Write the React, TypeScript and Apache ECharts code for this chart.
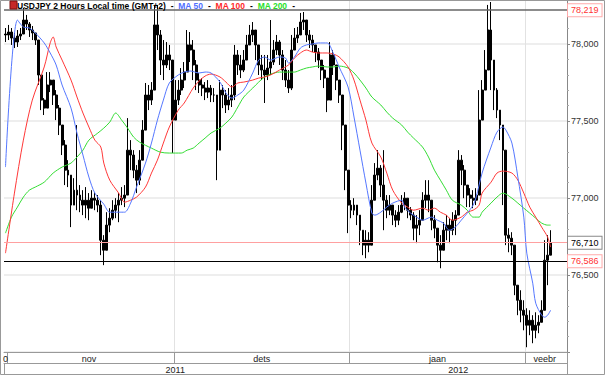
import React, { useEffect, useRef } from "react";
import * as echarts from "echarts";

// 2-hour USDJPY bars: closes, highs, lows
const firstOpen = 78.065;
const closes = [
  78.059, 78.078, 78.039, 78.013, 78.052, 78.065, 78.156, 78.13, 78.091, 78.072,
  78.026, 77.799, 77.636, 77.584, 77.734, 77.766, 77.669, 77.584, 77.474, 77.344,
  77.181, 77.149, 76.954, 77.051, 77.019, 76.986, 76.954, 76.986, 76.934, 76.999,
  76.986, 76.954, 76.726, 76.661, 76.824, 76.869, 76.921, 76.954, 76.986, 76.999,
  77.019, 77.311, 77.279, 77.181, 77.116, 77.246, 77.441, 77.669, 77.636, 77.701,
  78.124, 78.059, 77.896, 77.864, 77.929, 77.896, 77.506, 77.636, 77.701, 77.766,
  77.818, 77.994, 77.961, 77.864, 77.766, 77.734, 77.714, 77.688, 77.714, 77.669,
  77.669, 77.311, 77.701, 77.669, 77.604, 77.636, 77.669, 77.929, 77.864, 77.831,
  77.896, 77.994, 78.059, 78.091, 77.994, 77.864, 77.831, 77.799, 77.844, 77.883,
  77.961, 78.013, 77.929, 77.831, 77.766, 77.714, 77.961, 78.039, 78.059, 78.143,
  78.156, 78.059, 78.026, 77.994, 77.948, 77.896, 77.831, 77.779, 77.636, 77.929,
  77.864, 77.766, 77.669, 77.474, 77.181, 76.954, 76.921, 76.954, 76.889, 76.791,
  76.694, 76.726, 76.694, 76.986, 77.149, 77.194, 77.084, 76.986, 76.921, 76.954,
  76.889, 76.856, 76.908, 76.954, 76.999, 76.921, 76.889, 76.804, 76.824, 76.856,
  76.986, 77.019, 76.986, 76.856, 76.804, 76.694, 76.661, 76.791, 76.824, 76.791,
  76.856, 76.889, 77.246, 77.181, 77.084, 77.019, 76.999, 76.986, 77.019, 77.506,
  77.701, 77.831, 78.091, 77.896, 77.701, 77.571, 77.474, 77.311, 76.759, 76.739,
  76.694, 76.434, 76.336, 76.271, 76.239, 76.174, 76.206, 76.141, 76.174, 76.193,
  76.271, 76.596, 76.629, 76.71,
];
const highs = [
  78.104, 78.124, 78.104, 78.072, 78.091, 78.104, 78.234, 78.189, 78.143, 78.117,
  78.065, 78.026, 77.799, 77.649, 77.818, 77.818, 77.753, 77.701, 77.604, 77.474,
  77.376, 77.246, 77.116, 77.129, 77.474, 77.084, 77.051, 77.071, 77.032, 77.051,
  77.038, 77.019, 76.986, 76.759, 76.908, 76.934, 76.986, 76.999, 77.032, 77.071,
  77.084, 77.519, 77.376, 77.311, 77.214, 77.311, 77.506, 77.747, 77.734, 77.753,
  78.254, 78.254, 78.091, 78.026, 78.013, 77.994, 77.701, 77.766, 77.766, 77.844,
  77.883, 78.091, 78.078, 78.026, 77.896, 77.812, 77.779, 77.753, 77.766, 77.734,
  77.714, 77.669, 77.766, 77.734, 77.701, 77.714, 77.734, 77.994, 77.961, 77.929,
  77.961, 78.059, 78.124, 78.143, 78.091, 77.994, 77.929, 77.929, 77.929, 78.156,
  78.026, 78.059, 78.026, 77.961, 77.896, 77.831, 78.059, 78.104, 78.111, 78.202,
  78.208, 78.124, 78.091, 78.059, 77.994, 77.974, 77.896, 77.864, 77.779, 78.013,
  77.961, 77.844, 77.734, 77.636, 77.344, 77.116, 76.986, 76.999, 76.954, 76.889,
  76.791, 76.791, 76.778, 77.084, 77.227, 77.311, 77.214, 77.311, 77.019, 77.019,
  76.954, 76.921, 76.954, 77.019, 77.038, 76.986, 76.941, 76.908, 76.889, 76.921,
  77.038, 77.116, 77.116, 76.921, 76.889, 76.791, 76.759, 76.843, 76.889, 76.869,
  76.908, 76.921, 77.311, 77.279, 77.214, 77.084, 77.064, 77.051, 77.064, 77.701,
  77.766, 77.961, 78.254, 78.273, 77.864, 77.714, 77.571, 77.474, 77.019, 76.804,
  76.778, 76.661, 76.414, 76.401, 76.336, 76.284, 76.271, 76.239, 76.258, 76.239,
  76.336, 76.726, 76.759, 76.791,
];
const lows = [
  78.013, 78.026, 77.994, 77.974, 77.981, 78.026, 78.091, 78.091, 78.046, 78.026,
  77.994, 77.734, 77.571, 77.539, 77.584, 77.688, 77.604, 77.506, 77.409, 77.279,
  77.084, 77.071, 76.811, 76.954, 76.921, 76.908, 76.889, 76.869, 76.856, 76.941,
  76.921, 76.908, 76.629, 76.564, 76.726, 76.778, 76.856, 76.869, 76.843, 76.954,
  76.941, 77.051, 77.181, 77.129, 77.032, 77.084, 77.246, 77.539, 77.571, 77.604,
  77.734, 77.961, 77.799, 77.766, 77.844, 77.831, 77.292, 77.558, 77.604, 77.669,
  77.714, 77.896, 77.883, 77.766, 77.701, 77.682, 77.662, 77.636, 77.649, 77.623,
  77.623, 77.116, 77.376, 77.584, 77.552, 77.571, 77.591, 77.636, 77.799, 77.779,
  77.818, 77.916, 77.994, 78.013, 77.896, 77.799, 77.766, 77.617, 77.766, 77.799,
  77.864, 77.929, 77.864, 77.766, 77.721, 77.682, 77.701, 77.961, 78.007, 78.078,
  78.091, 78.013, 77.974, 77.948, 77.883, 77.844, 77.766, 77.714, 77.558, 77.734,
  77.799, 77.701, 77.617, 77.311, 77.051, 76.772, 76.869, 76.889, 76.824, 76.694,
  76.629, 76.609, 76.648, 76.726, 77.051, 77.116, 77.006, 76.791, 76.869, 76.889,
  76.824, 76.811, 76.824, 76.902, 76.921, 76.869, 76.856, 76.726, 76.707, 76.759,
  76.902, 76.934, 76.908, 76.791, 76.739, 76.583, 76.544, 76.713, 76.726, 76.707,
  76.759, 76.759, 77.051, 77.084, 76.999, 76.941, 76.941, 76.934, 76.954, 77.019,
  77.636, 77.734, 77.929, 77.701, 77.571, 77.519, 77.376, 76.954, 76.694, 76.648,
  76.629, 76.369, 76.239, 76.193, 76.141, 76.031, 76.109, 76.057, 76.089, 76.122,
  76.219, 76.336, 76.434, 76.629,
];

// moving averages: [bar index, value]
const ma50 = [
  [0, 77.201], [4, 78.156], [6, 78.111], [8, 78.104], [10, 78.072], [13, 78.007], [15, 77.942],
  [17, 77.864], [19, 77.734], [22, 77.584], [24, 77.422], [26, 77.279], [28, 77.136], [30, 77.032],
  [33, 76.96], [35, 76.908], [38, 76.908], [40, 76.908], [42, 76.967], [44, 77.071], [47, 77.227],
  [49, 77.357], [51, 77.506], [53, 77.636], [55, 77.747], [58, 77.799], [60, 77.818], [62, 77.825],
  [65, 77.812], [67, 77.818], [69, 77.812], [72, 77.753], [74, 77.682], [76, 77.649], [78, 77.669],
  [80, 77.701], [83, 77.812], [85, 77.896], [87, 77.916], [89, 77.896], [92, 77.916], [94, 77.909],
  [95, 77.877], [97, 77.916], [99, 77.974], [101, 77.994], [103, 78.0], [105, 78.007], [108, 78.007],
  [110, 77.942], [112, 77.851], [115, 77.721], [117, 77.526], [119, 77.311], [121, 77.097],
  [123, 76.902], [124, 76.889], [126, 76.908], [128, 76.941], [130, 76.967], [133, 76.986],
  [134, 76.941], [136, 76.902], [138, 76.876], [140, 76.856], [143, 76.876], [145, 76.856],
  [147, 76.837], [149, 76.791], [151, 76.811], [153, 76.856], [155, 76.902], [157, 76.954],
  [158, 77.006], [160, 77.162], [163, 77.331], [165, 77.428], [167, 77.461], [168, 77.441],
  [170, 77.357], [172, 77.136], [174, 76.876], [175, 76.642], [177, 76.447], [178, 76.317],
  [180, 76.239], [181, 76.226], [182, 76.239], [183, 76.271],
];
const ma100 = [
  [0, 76.642], [3, 77.032], [6, 77.376], [9, 77.636], [13, 77.851], [15, 78.007], [16, 78.046],
  [17, 77.981], [19, 77.896], [22, 77.766], [24, 77.656], [26, 77.552], [28, 77.461], [30, 77.376],
  [32, 77.331], [33, 77.227], [35, 77.116], [38, 77.032], [40, 76.973], [42, 76.986], [44, 77.006],
  [47, 77.071], [49, 77.162], [51, 77.246], [53, 77.357], [55, 77.461], [58, 77.571], [60, 77.617],
  [63, 77.714], [65, 77.76], [67, 77.792], [69, 77.805], [72, 77.786], [74, 77.753], [76, 77.721],
  [78, 77.747], [80, 77.753], [83, 77.766], [85, 77.779], [87, 77.786], [89, 77.799], [92, 77.831],
  [95, 77.864], [97, 77.909], [99, 77.942], [101, 77.961], [103, 77.948], [105, 77.942],
  [108, 77.942], [110, 77.935], [112, 77.916], [115, 77.851], [117, 77.766], [119, 77.636],
  [121, 77.506], [123, 77.357], [126, 77.266], [128, 77.162], [130, 77.051], [133, 76.967],
  [135, 76.941], [137, 76.921], [140, 76.934], [142, 76.921], [144, 76.934], [146, 76.908],
  [148, 76.889], [150, 76.856], [153, 76.876], [155, 76.908], [157, 76.921], [159, 76.954],
  [160, 77.032], [163, 77.103], [165, 77.162], [167, 77.175], [170, 77.162], [172, 77.116],
  [174, 77.032], [176, 76.941], [178, 76.876], [180, 76.811], [182, 76.746], [183, 76.681],
];
const ma200 = [
  [0, 76.772], [2, 76.876], [4, 76.941], [6, 77.006], [8, 77.051], [10, 77.071], [13, 77.103],
  [16, 77.162], [19, 77.201], [22, 77.227], [24, 77.266], [26, 77.311], [28, 77.376], [31, 77.422],
  [33, 77.454], [35, 77.493], [37, 77.552], [39, 77.506], [41, 77.454], [43, 77.396], [45, 77.363],
  [49, 77.324], [52, 77.298], [55, 77.292], [59, 77.292], [61, 77.311], [63, 77.324], [65, 77.357],
  [67, 77.389], [69, 77.422], [72, 77.454], [74, 77.487], [76, 77.526], [78, 77.591], [80, 77.656],
  [83, 77.714], [85, 77.753], [87, 77.786], [89, 77.805], [92, 77.818], [95, 77.818], [97, 77.818],
  [99, 77.831], [101, 77.844], [103, 77.851], [105, 77.857], [108, 77.851], [110, 77.851],
  [112, 77.857], [115, 77.844], [117, 77.812], [119, 77.766], [121, 77.714], [123, 77.656],
  [126, 77.604], [128, 77.558], [130, 77.519], [133, 77.474], [135, 77.428], [137, 77.389],
  [140, 77.331], [142, 77.266], [144, 77.181], [146, 77.116], [148, 77.051], [150, 76.986],
  [153, 76.954], [155, 76.921], [157, 76.876], [159, 76.876], [160, 76.908], [163, 76.967],
  [165, 77.006], [167, 77.032], [170, 76.999], [172, 76.967], [174, 76.934], [176, 76.902],
  [178, 76.869], [180, 76.837], [182, 76.824], [183, 76.824],
];

// axis slots (2-hour bar positions), month / year labels
const slotCount = 189;
const categories = Array.from({ length: slotCount }, (_, i) => String(i));
const monthBoundaries = [1, 57, 116, 175];
const monthLabels: Record<number, string> = { 0: "0", 28: "nov", 86: "dets", 145: "jaan", 181: "veebr" };
const yearBoundaries = [116];
const yearLabels: Record<number, string> = { 57: "2011", 152: "2012" };

const periodHigh = 78.219;
const lastPrice = 76.71;
const prevLevel = 76.586;
const yMin = 76.0;
const yMax = 78.286;
const yStep = 0.5;

const FONT = "'Liberation Sans', Arial, sans-serif";
const fmt = (v: number) => v.toFixed(3).replace(".", ",");

export default function App() {
  const ref = useRef<HTMLDivElement>(null);
  useEffect(() => {
    document.body.style.margin = "0";
    const chart = echarts.init(ref.current!, null, { renderer: "svg" });
    const ohlc = closes.map((c, i) => {
      const o = i === 0 ? firstOpen : closes[i - 1];
      const h = Math.max(highs[i], o, c);
      const l = Math.min(lows[i], o, c);
      return [o, c, l, h];
    });
    const lineSeries = (data: number[][], color: string) => ({
      type: "line",
      data,
      showSymbol: false,
      smooth: 0.3,
      lineStyle: { color, width: 1 },
      itemStyle: { color },
      silent: true,
      z: 3,
    });
    const FS = 8.5;
    chart.setOption({
      animation: false,
      backgroundColor: "#ffffff",
      textStyle: { fontFamily: FONT },
      title: {
        left: 17,
        top: 1,
        padding: 0,
        text:
          "{t|USDJPY 2 Hours Local time (GMT+2)}{t|  -  }{b|MA 50}{t|  -  }{r|MA 100}{t|  -  }{g|MA 200}{t|  -}",
        textStyle: {
          rich: {
            t: { fontSize: FS, color: "#000", fontFamily: FONT },
            b: { fontSize: FS, color: "#4f6fff", fontFamily: FONT },
            r: { fontSize: FS, color: "#ff2a2a", fontFamily: FONT },
            g: { fontSize: FS, color: "#2adf2a", fontFamily: FONT },
          },
        },
      },
      grid: { left: 0, right: 38, top: 0, bottom: 23 },
      xAxis: [
        {
          type: "category",
          data: categories,
          boundaryGap: true,
          position: "bottom",
          axisLine: { show: true, lineStyle: { color: "#999" } },
          axisTick: {
            show: true,
            interval: (i: number) => monthBoundaries.includes(i),
            length: 11,
            lineStyle: { color: "#999" },
          },
          axisLabel: {
            interval: (i: number) => monthLabels[i] !== undefined,
            formatter: (_v: string, i: number) => monthLabels[i] ?? "",
            fontSize: 9,
            color: "#222",
            margin: 2,
            fontFamily: FONT,
          },
          splitLine: {
            show: true,
            interval: (i: number) => monthBoundaries.slice(1).includes(i),
            lineStyle: { color: "#e2e2e2" },
          },
        },
        {
          type: "category",
          data: categories,
          boundaryGap: true,
          position: "bottom",
          offset: 11,
          axisLine: { show: true, lineStyle: { color: "#999" } },
          axisTick: {
            show: true,
            interval: (i: number) => yearBoundaries.includes(i),
            length: 12,
            lineStyle: { color: "#999" },
          },
          axisLabel: {
            interval: (i: number) => yearLabels[i] !== undefined,
            formatter: (_v: string, i: number) => yearLabels[i] ?? "",
            fontSize: 9,
            color: "#222",
            margin: 2,
            fontFamily: FONT,
          },
          splitLine: { show: false },
        },
      ],
      yAxis: {
        type: "value",
        position: "right",
        min: yMin,
        max: yMax,
        interval: yStep,
        axisLine: { show: true, lineStyle: { color: "#888" } },
        axisTick: { show: true, length: 3, lineStyle: { color: "#888" } },
        minorTick: { show: true, splitNumber: 5, length: 2, lineStyle: { color: "#aaa" } },
        axisLabel: {
          fontSize: 9,
          color: "#333",
          margin: 4,
          fontFamily: FONT,
          formatter: (v: number) =>
            Math.abs(v * 2 - Math.round(v * 2)) < 1e-6 && v > yMin + 0.01 ? fmt(v) : "",
        },
        splitLine: { show: true, lineStyle: { color: "#e8e8e8", width: 1.5 } },
      },
      graphic: [
        {
          type: "rect",
          shape: { x: 0.5, y: 0.5, width: 604, height: 374 },
          style: { fill: "none", stroke: "#999", lineWidth: 1 },
          silent: true,
          z: 100,
        },
        {
          type: "line",
          shape: { x1: 567.5, y1: 352, x2: 567.5, y2: 375 },
          style: { stroke: "#999", lineWidth: 1 },
          silent: true,
        },
        {
          type: "rect",
          shape: { x: 10, y: 1, width: 7, height: 8 },
          style: { fill: "#c62828", stroke: "#7a1010", lineWidth: 1 },
          silent: true,
          z: 100,
        },
      ],
      series: [
        {
          type: "candlestick",
          data: ohlc,
          barWidth: 2.4,
          silent: true,
          itemStyle: {
            color: "#000",
            color0: "#000",
            borderColor: "#000",
            borderColor0: "#000",
            borderWidth: 1,
          },
          markLine: {
            symbol: ["none", "none"],
            silent: true,
            lineStyle: { type: "solid" },
            label: {
              show: true,
              position: "end",
              distance: 1,
              formatter: "{b}",
              fontSize: 9,
              fontFamily: FONT,
              backgroundColor: "#fff",
              borderWidth: 1,
              padding: [2, 3, 1, 3],
            },
            data: [
              {
                name: fmt(periodHigh),
                yAxis: periodHigh,
                lineStyle: { color: "#666", width: 1.5 },
                label: { color: "#ff3333", borderColor: "#ffaaaa" },
              },
              {
                name: fmt(lastPrice),
                yAxis: lastPrice,
                lineStyle: { color: "#ffa0a0", width: 1.2 },
                label: { color: "#000", borderColor: "#888" },
              },
              {
                name: fmt(prevLevel),
                yAxis: prevLevel,
                lineStyle: { color: "#000", width: 1 },
                label: { color: "#ff3333", borderColor: "#ffaaaa" },
              },
            ],
          },
        },
        lineSeries(ma200, "#33dd33"),
        lineSeries(ma100, "#ff3838"),
        lineSeries(ma50, "#5577ff"),
      ],
    });
    return () => chart.dispose();
  }, []);
  return <div ref={ref} style={{ width: 605, height: 375 }} />;
}
